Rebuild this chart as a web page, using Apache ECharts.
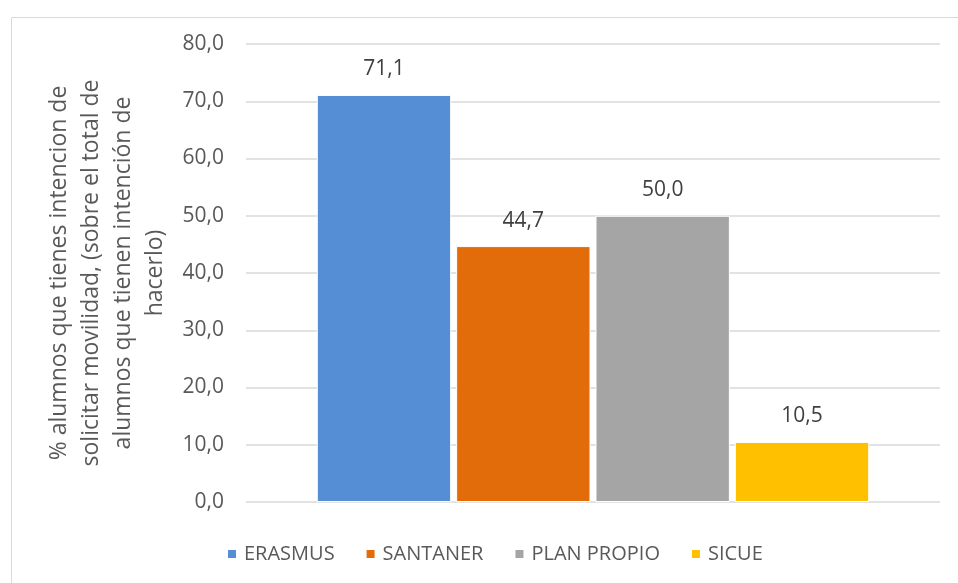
<!DOCTYPE html>
<html>
<head>
<meta charset="utf-8">
<script src="https://cdn.jsdelivr.net/npm/echarts@6/dist/echarts.min.js"></script>
<style>
  html, body { margin: 0; padding: 0; background: #fff; }
  #main { width: 958px; height: 583px; }
</style>
</head>
<body>
<div id="main"></div>
<script>
// datos del gráfico
var categorias = [''];
var programas = ['ERASMUS', 'SANTANER', 'PLAN PROPIO', 'SICUE'];
var valores = [71.1, 44.7, 50.0, 10.5];
var colores = ['#558ED5', '#E36C0A', '#A5A5A5', '#FFC000'];
var ejeY = { min: 0, max: 80, interval: 10 };

var chart = echarts.init(document.getElementById('main'));

function fmt(v) {
  return Number(v).toFixed(1).replace('.', ',');
}

var series = programas.map(function (nombre, i) {
  return {
    name: nombre,
    type: 'bar',
    data: [valores[i]],
    barGap: '3.7%',
    barCategoryGap: '20.4%',
    itemStyle: { color: colores[i], borderColor: '#fff', borderWidth: 1 },
    label: {
      show: true,
      position: 'top',
      distance: 15,
      color: '#404040',
      fontSize: 21,
      fontFamily: 'Open Sans',
      formatter: function (p) { return fmt(p.value); }
    }
  };
});

var option = {
  animation: false,
  color: colores,
  textStyle: { fontFamily: 'Open Sans' },
  graphic: [{
    type: 'rect',
    left: 9, top: 15,
    shape: { width: 1000, height: 600 },
    style: { fill: 'none', stroke: '#D9D9D9', lineWidth: 1 },
    silent: true,
    z: -1
  }],
  grid: { left: 246, right: 18, top: 44, bottom: 81 },
  legend: {
    bottom: 14,
    left: 221,
    icon: 'rect',
    itemWidth: 10,
    itemHeight: 10,
    itemGap: 30,
    textStyle: { color: '#595959', fontSize: 20, fontFamily: 'Open Sans', padding: [0, 0, 0, 2] },
    data: programas
  },
  xAxis: {
    type: 'category',
    data: categorias,
    axisLine: { show: false },
    axisTick: { show: false },
    axisLabel: { show: false }
  },
  yAxis: {
    type: 'value',
    min: ejeY.min,
    max: ejeY.max,
    interval: ejeY.interval,
    name: '% alumnos que tienes intencion de\nsolicitar movilidad, (sobre el total de\nalumnos que tienen intención de\nhacerlo)',
    nameLocation: 'middle',
    nameGap: 72,
    nameTextStyle: { color: '#595959', fontSize: 23, lineHeight: 32, fontFamily: 'Open Sans', align: 'center' },
    axisLine: { show: false },
    axisTick: { show: false },
    axisLabel: {
      color: '#595959',
      fontSize: 21,
      margin: 22,
      fontFamily: 'Open Sans',
      formatter: function (v) { return fmt(v); }
    },
    splitLine: { lineStyle: { color: '#D9D9D9', width: 1.5 } }
  },
  series: series
};

chart.setOption(option);
</script>
</body>
</html>
